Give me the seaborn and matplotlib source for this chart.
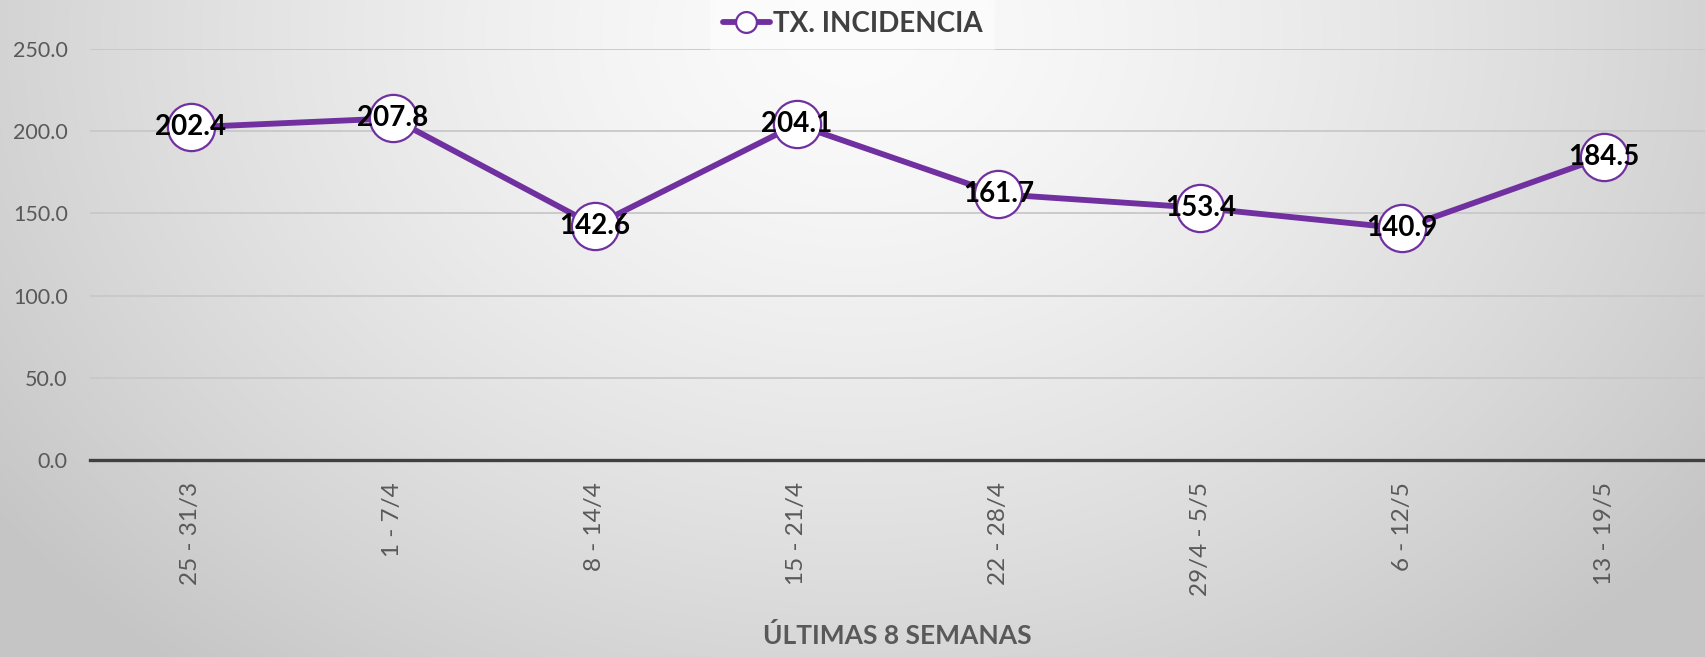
import numpy as np
import pandas as pd
import matplotlib
matplotlib.use("Agg")
import matplotlib.pyplot as plt
import seaborn as sns

weeks = ["25 - 31/3", "1 - 7/4", "8 - 14/4", "15 - 21/4", "22 - 28/4",
         "29/4 - 5/5", "6 - 12/5", "13 - 19/5"]
tx_incidencia = [202.4, 207.8, 142.6, 204.1, 161.7, 153.4, 140.9, 184.5]
y_ticks = [0, 50, 100, 150, 200, 250]
series_name = "TX. INCIDENCIA"
x_title = "ÚLTIMAS 8 SEMANAS"

df = pd.DataFrame({"week": weeks, "value": tx_incidencia, "serie": series_name})

sns.set_theme(style="white")
plt.rcParams["font.family"] = ["Lato", "DejaVu Sans"]

W, H = 1705, 657
fig = plt.figure(figsize=(W / 100, H / 100), dpi=100)

# radial gradient background
bg = fig.add_axes([0, 0, 1, 1], zorder=-10)
yy, xx = np.mgrid[0:H, 0:W]
cx, cy = W * 0.5, H * 0.05
r = np.sqrt(((xx - cx) / (W * 0.62)) ** 2 + ((yy - cy) / (H * 1.25)) ** 2)
r = np.clip(r, 0, 1)
val = 0.985 - 0.21 * r ** 1.4
bg.imshow(np.dstack([val, val, val]), aspect="auto", extent=[0, 1, 0, 1])
bg.set_axis_off()

ax = fig.add_axes([90 / W, 1 - 460 / H, 1 - 90 / W, (460 - 49) / H])
ax.set_facecolor("none")

purple = "#7030A0"
x_idx = np.arange(len(weeks))
sns.lineplot(data=df, x=x_idx, y="value", ax=ax, color=purple, linewidth=4.2,
             marker="o", markersize=34, markerfacecolor="white",
             markeredgecolor=purple, markeredgewidth=1.6, label=series_name,
             zorder=3, legend=False)

for i, v in enumerate(tx_incidencia):
    ax.text(i, v, f"{v:.1f}", ha="center", va="center", fontsize=20,
            fontweight="bold", color="black", zorder=5)

ax.set_xlim(-0.5, len(weeks) - 0.5)
ax.set_ylim(0, 250)
ax.set_yticks(y_ticks)
ax.set_yticklabels([f"{t:.1f}" for t in y_ticks])
ax.set_xticks(x_idx)
ax.set_xticklabels(weeks, rotation=90)
ax.tick_params(axis="y", length=0, pad=16, labelsize=15.5, labelcolor="#595959")
ax.tick_params(axis="x", length=0, pad=16, labelsize=17.5, labelcolor="#595959")

for t in y_ticks[1:]:
    ax.axhline(t, color="#c8c8c8", lw=1.3, zorder=1)
for s in ["top", "right", "left"]:
    ax.spines[s].set_visible(False)
ax.spines["bottom"].set_color("#404040")
ax.spines["bottom"].set_linewidth(2.4)
ax.grid(False)

ax.set_xlabel(x_title, fontsize=19, fontweight="bold", color="#595959", labelpad=19)
ax.set_ylabel("")

# legend
h, = ax.plot([], [], color=purple, lw=4.2, marker="o", markersize=15,
             markerfacecolor="white", markeredgecolor=purple, markeredgewidth=1.6)
leg = fig.legend([h], [series_name], loc="center", bbox_to_anchor=(0.5, 1 - 24 / H),
                 frameon=True, fontsize=20, handlelength=1.7, handletextpad=0.1,
                 borderpad=0.45, borderaxespad=0, fancybox=False)
leg.get_frame().set_facecolor("white")
leg.get_frame().set_alpha(0.45)
leg.get_frame().set_edgecolor("none")
for t in leg.get_texts():
    t.set_fontweight("bold")
    t.set_color("#404040")

fig.savefig("out.png", dpi=100)
